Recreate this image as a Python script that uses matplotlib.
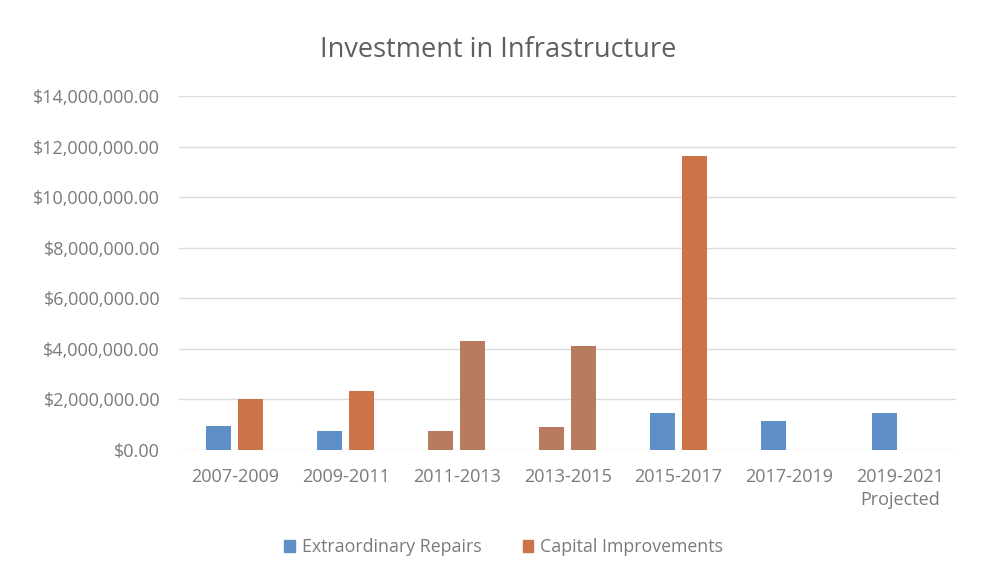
import numpy as np
import matplotlib
matplotlib.use("Agg")
from matplotlib import pyplot as plt
from matplotlib.ticker import FuncFormatter

# biennium labels and spending per series (dollars)
periods = ["2007-2009", "2009-2011", "2011-2013", "2013-2015",
           "2015-2017", "2017-2019", "2019-2021\nProjected"]
extraordinary_repairs = [950000, 750000, 750000, 900000, 1470000, 1150000, 1450000]
capital_improvements = [2030000, 2330000, 4320000, 4130000, 11620000, np.nan, np.nan]

BLUE = "#5e8fc7"
ORANGE = "#cd7349"
BROWN = "#b97b5f"
TEXT = "#7a7a7a"

plt.rcParams["font.family"] = ["Open Sans", "DejaVu Sans"]

fig = plt.figure(figsize=(9.84, 5.78), dpi=100)
ax = fig.add_axes([0.1824, 0.2215, 0.789, 0.6125])

x = np.arange(len(periods))
w = 0.225
off = 0.144

# the middle two periods are drawn in a muted brown for both series
rep_colors = [BLUE, BLUE, BROWN, BROWN, BLUE, BLUE, BLUE]
cap_colors = [ORANGE, ORANGE, BROWN, BROWN, ORANGE, ORANGE, ORANGE]

ax.bar(x - off, extraordinary_repairs, w, color=rep_colors, zorder=3)
ax.bar(x + off, capital_improvements, w, color=cap_colors, zorder=3)

ax.set_xlim(-0.5, len(periods) - 0.5)
ax.set_ylim(0, 14000000)
ax.set_yticks(np.arange(0, 14000001, 2000000))
ax.yaxis.set_major_formatter(FuncFormatter(lambda v, p: "${:,.2f}".format(v)))
ax.set_xticks(x)
ax.set_xticklabels(periods, linespacing=1.35)

ax.grid(axis="y", color="#dcdcdc", lw=1, zorder=0)
for s in ax.spines.values():
    s.set_visible(False)
ax.tick_params(length=0, colors=TEXT, labelsize=13)
ax.tick_params(axis="y", pad=14)
ax.tick_params(axis="x", pad=13)

fig.text(0.5065, 0.913, "Investment in Infrastructure", ha="center", va="center",
         fontsize=19.5, color="#5f5f5f")

handles = [plt.Rectangle((0, 0), 1, 1, color=BLUE),
           plt.Rectangle((0, 0), 1, 1, color=ORANGE)]
fig.legend(handles, ["Extraordinary Repairs", "Capital Improvements"],
           loc="center", bbox_to_anchor=(0.512, 0.053), ncol=2, frameon=False,
           fontsize=12.8, labelcolor=TEXT, handlelength=0.6, handleheight=0.6,
           handletextpad=0.4, columnspacing=2.3)

fig.savefig("out.png", dpi=100, facecolor="white")
